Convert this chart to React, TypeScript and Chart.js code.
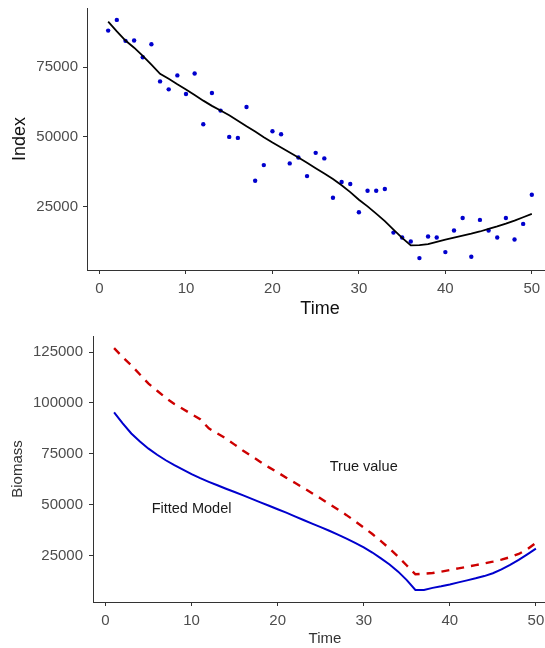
import React, { useEffect, useRef } from 'react';
import { Chart, registerables } from 'chart.js';

Chart.register(...registerables);

// ---------- data ----------
const time = [
  1, 2, 3, 4, 5, 6, 7, 8, 9, 10, 11, 12, 13, 14, 15, 16, 17, 18, 19, 20, 21, 22, 23, 24, 25,
  26, 27, 28, 29, 30, 31, 32, 33, 34, 35, 36, 37, 38, 39, 40, 41, 42, 43, 44, 45, 46, 47, 48, 49, 50,
];

const indexObserved = [
  88100, 91930, 84430, 84540, 78570, 83210, 69890, 67040, 72040, 65360,
  72750, 54540, 65710, 59430, 50000, 49640, 60710, 34300, 39890, 52040,
  50960, 40500, 42640, 35960, 44290, 42290, 28210, 33820, 33110, 23000,
  30710, 30710, 31320, 15710, 13930, 12500, 6570, 14290, 13930, 8710,
  16430, 20960, 7040, 20250, 16430, 13930, 20960, 13210, 18820, 29290,
];

const indexFitted = [
  91340, 87820, 84540, 81970, 79040, 75880, 72600, 70840, 68850, 66980,
  64990, 63000, 61120, 59490, 57730, 55800, 53800, 51900, 49900, 48000,
  46200, 44400, 42600, 40700, 38800, 36900, 34900, 32700, 30200, 27500,
  25100, 22500, 19800, 16800, 13800, 11100, 11200, 11600, 12400, 13200,
  13900, 14600, 15300, 16100, 17000, 17900, 18900, 20000, 21200, 22400,
];

const biomassFitted = [
  95400, 90000, 85000, 81000, 77500, 74500, 71800, 69400, 67200, 65000,
  63000, 61200, 59500, 57800, 56200, 54500, 52800, 51100, 49400, 47700,
  46000, 44200, 42400, 40600, 38900, 37100, 35200, 33200, 31100, 28900,
  26400, 23500, 20500, 17000, 12800, 8000, 8000, 9000, 9800, 10700,
  11700, 12700, 13700, 14800, 16200, 18100, 20300, 22800, 25500, 28300,
];

const biomassTrue = [
  127000, 122500, 118500, 114000, 109500, 106000, 102500, 99500, 97000, 94500,
  92000, 87500, 85000, 82500, 79500, 76500, 73800, 71000, 68300, 65800,
  63200, 60700, 58200, 55600, 53000, 50300, 47600, 44800, 41800, 38700,
  35500, 32000, 28300, 24300, 20000, 15700, 16000, 16300, 17000, 17800,
  18600, 19400, 20200, 21000, 21900, 22900, 24100, 25700, 28000, 31200,
];

const timeTicks = [0, 10, 20, 30, 40, 50];
const indexTicks = [25000, 50000, 75000];
const biomassTicks = [25000, 50000, 75000, 100000, 125000];

const noteLabels = ['True value', 'Fitted Model'];
const noteX = [30, 10];
const noteY = [68500, 47600];

// ---------- styling ----------
const FONT = "'Liberation Sans', Arial, Helvetica, sans-serif";
const AXIS_COLOR = '#333333';
const TICK_COLOR = '#4d4d4d';

const xy = (ys: number[]) => time.map((t, i) => ({ x: t, y: ys[i] }));

function makeX(opts: { height: number; tickPad: number; titleSize: number; titlePad: number; titleColor: string }) {
  return {
    type: 'linear',
    min: -1.45,
    max: 52.45,
    afterBuildTicks: (s: any) => {
      s.ticks = timeTicks.map((v) => ({ value: v }));
    },
    afterFit: (s: any) => {
      s.height = opts.height;
      s.paddingLeft = 0;
      s.paddingRight = 0;
    },
    grid: { display: true, drawOnChartArea: false, drawTicks: true, tickLength: 4, color: AXIS_COLOR, lineWidth: 1 },
    border: { display: true, color: AXIS_COLOR, width: 1 },
    ticks: {
      color: TICK_COLOR,
      font: { family: FONT, size: 15 },
      padding: opts.tickPad,
      maxRotation: 0,
      autoSkip: false,
      callback: (v: any) => String(v),
    },
    title: {
      display: true,
      text: 'Time',
      color: opts.titleColor,
      font: { family: FONT, size: opts.titleSize },
      padding: { top: 0, bottom: opts.titlePad },
    },
  };
}

function makeY(opts: {
  min: number; max: number; ticks: number[]; width: number; tickPad: number;
  title: string; titleSize: number; titlePad: number; titleColor: string;
}) {
  return {
    type: 'linear',
    min: opts.min,
    max: opts.max,
    afterBuildTicks: (s: any) => {
      s.ticks = opts.ticks.map((v) => ({ value: v }));
    },
    afterFit: (s: any) => {
      s.width = opts.width;
      s.paddingTop = 0;
      s.paddingBottom = 0;
    },
    grid: { display: true, drawOnChartArea: false, drawTicks: true, tickLength: 4, color: AXIS_COLOR, lineWidth: 1 },
    border: { display: true, color: AXIS_COLOR, width: 1 },
    ticks: {
      color: TICK_COLOR,
      font: { family: FONT, size: 15 },
      padding: opts.tickPad,
      autoSkip: false,
      callback: (v: any) => String(v),
    },
    title: {
      display: true,
      text: opts.title,
      color: opts.titleColor,
      font: { family: FONT, size: opts.titleSize },
      padding: { top: opts.titlePad, bottom: 0 },
    },
  };
}

const notesPlugin = {
  id: 'notes',
  afterDatasetsDraw(chart: any) {
    const { ctx, scales } = chart;
    ctx.save();
    ctx.fillStyle = '#1a1a1a';
    ctx.font = `14.5px ${FONT}`;
    ctx.textAlign = 'center';
    ctx.textBaseline = 'middle';
    noteLabels.forEach((label, i) => {
      ctx.fillText(label, scales.x.getPixelForValue(noteX[i]), scales.y.getPixelForValue(noteY[i]));
    });
    ctx.restore();
  },
};

const CANVAS_W = 557;

export default function App() {
  const topRef = useRef<HTMLCanvasElement>(null);
  const bottomRef = useRef<HTMLCanvasElement>(null);

  useEffect(() => {
    const top = new Chart(topRef.current as HTMLCanvasElement, {
      type: 'scatter',
      data: {
        datasets: [
          {
            data: xy(indexFitted),
            showLine: true,
            borderColor: '#000000',
            borderWidth: 1.8,
            pointRadius: 0,
            tension: 0,
            fill: false,
            order: 0,
          },
          {
            data: xy(indexObserved),
            pointRadius: 2.2,
            pointBackgroundColor: '#0000CD',
            pointBorderWidth: 0,
            backgroundColor: '#0000CD',
            borderColor: '#0000CD',
            order: 1,
          },
        ],
      } as any,
      options: {
        responsive: false,
        animation: false,
        devicePixelRatio: 1,
        layout: { padding: { left: 0, right: 0, top: 8, bottom: 0 } },
        plugins: { legend: { display: false }, tooltip: { enabled: false } },
        scales: {
          x: makeX({ height: 60, tickPad: 6, titleSize: 18, titlePad: 10, titleColor: '#111111' }),
          y: makeY({
            min: 2300, max: 96200, ticks: indexTicks, width: 87, tickPad: 5,
            title: 'Index', titleSize: 18, titlePad: 9, titleColor: '#111111',
          }),
        } as any,
      },
    });

    const bottom = new Chart(bottomRef.current as HTMLCanvasElement, {
      type: 'scatter',
      data: {
        datasets: [
          {
            data: xy(biomassFitted),
            showLine: true,
            borderColor: '#0000CD',
            borderWidth: 2,
            pointRadius: 0,
            tension: 0,
            fill: false,
          },
          {
            data: xy(biomassTrue),
            showLine: true,
            borderColor: '#CD0000',
            borderWidth: 2.4,
            borderDash: [8, 7],
            pointRadius: 0,
            tension: 0,
            fill: false,
          },
        ],
      } as any,
      options: {
        responsive: false,
        animation: false,
        devicePixelRatio: 1,
        layout: { padding: { left: 0, right: 0, top: 6, bottom: 0 } },
        plugins: { legend: { display: false }, tooltip: { enabled: false } },
        scales: {
          x: makeX({ height: 46, tickPad: 6, titleSize: 15, titlePad: 0, titleColor: '#333333' }),
          y: makeY({
            min: 2050, max: 132950, ticks: biomassTicks, width: 93, tickPad: 6,
            title: 'Biomass', titleSize: 15, titlePad: 9, titleColor: '#333333',
          }),
        } as any,
      },
      plugins: [notesPlugin],
    });

    return () => {
      top.destroy();
      bottom.destroy();
    };
  }, []);

  return (
    <div
      style={{
        position: 'fixed',
        left: 0,
        top: 0,
        width: 545,
        height: 648,
        overflow: 'hidden',
        background: '#ffffff',
      }}
    >
      <canvas
        ref={topRef}
        width={CANVAS_W}
        height={330}
        style={{ position: 'absolute', left: 0, top: 0, width: CANVAS_W, height: 330 }}
      />
      <canvas
        ref={bottomRef}
        width={CANVAS_W}
        height={318}
        style={{ position: 'absolute', left: 0, top: 330, width: CANVAS_W, height: 318 }}
      />
    </div>
  );
}
